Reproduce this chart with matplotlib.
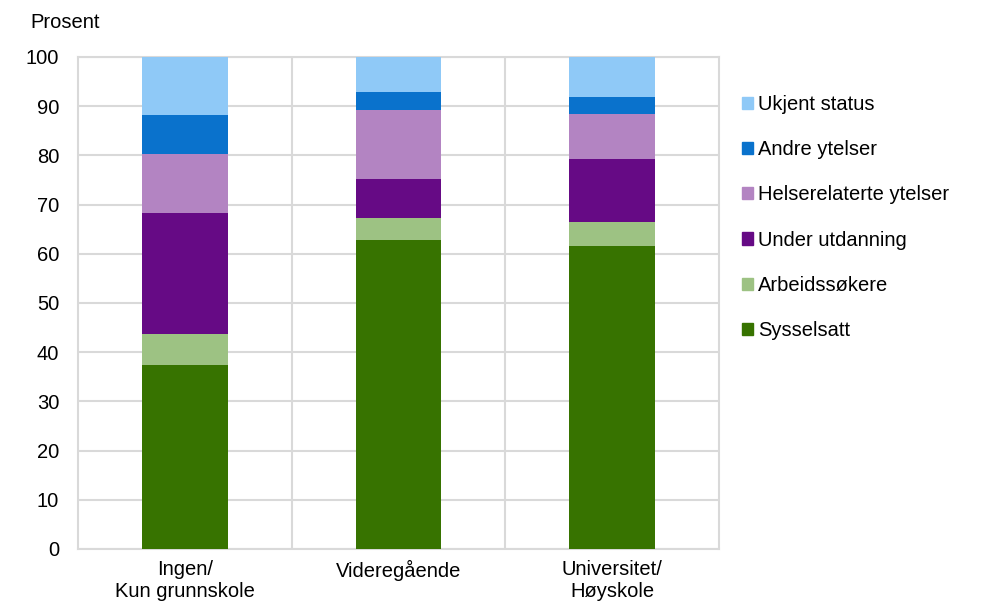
import matplotlib
matplotlib.use('Agg')
import matplotlib.pyplot as plt
from matplotlib.patches import Patch
import numpy as np

plt.rcParams['font.family'] = ['Liberation Sans', 'DejaVu Sans']

## categories and series (prosent)
kategorier = ['Ingen/\nKun grunnskole', 'Videregående', 'Universitet/\nHøyskole']
serier = ['Sysselsatt', 'Arbeidssøkere', 'Under utdanning',
          'Helserelaterte ytelser', 'Andre ytelser', 'Ukjent status']

sysselsatt = [37.5, 62.9, 61.5]
arbeidssokere = [6.2, 4.4, 4.9]
under_utdanning = [24.5, 8.0, 12.8]
helse = [12.0, 13.9, 9.2]
andre = [8.0, 3.6, 3.5]
ukjent = [11.8, 7.2, 8.1]

farger = ['#377300', '#9dc283', '#660a85', '#b384c2', '#0a72cc', '#8fc9f7']

verdier = [sysselsatt, arbeidssokere, under_utdanning, helse, andre, ukjent]

fs = 14.5

fig = plt.figure(figsize=(9.86, 6.03), dpi=100)
ax = fig.add_axes([78/986, 1-549/603, (719-78)/986, (549-57)/603])

x = np.arange(len(kategorier))
bunn = np.zeros(len(kategorier))
for navn, v, c in zip(serier, verdier, farger):
    ax.bar(x, v, bottom=bunn, width=0.4, color=c, label=navn, zorder=3)
    bunn += np.array(v)

ax.set_xlim(-0.5, 2.5)
ax.set_ylim(0, 100)
ax.set_yticks(range(0, 101, 10))
ax.set_xticks(x)
ax.set_xticklabels(kategorier, fontsize=fs)
ax.tick_params(axis='y', labelsize=fs, length=0, pad=13.5)
ax.tick_params(axis='x', length=0, pad=8)

## grid
ax.grid(axis='y', color='#d9d9d9', linewidth=1.5, zorder=0)
for b in [0.5, 1.5]:
    ax.axvline(b, color='#d9d9d9', linewidth=1.5, zorder=0)
for s in ax.spines.values():
    s.set_color('#d9d9d9')
    s.set_linewidth(1.5)

handles = [Patch(color=c, label=n) for n, c in zip(serier, farger)][::-1]
fig.legend(handles=handles, loc='upper left', bbox_to_anchor=(732/986, 1-85/603),
           frameon=False, fontsize=fs, handlelength=0.55, handleheight=0.55,
           handletextpad=0.25, labelspacing=1.3, borderpad=0)

fig.text(30/986, 1-22/603, 'Prosent', fontsize=fs, va='center', ha='left')

fig.savefig('out.png', dpi=100)
